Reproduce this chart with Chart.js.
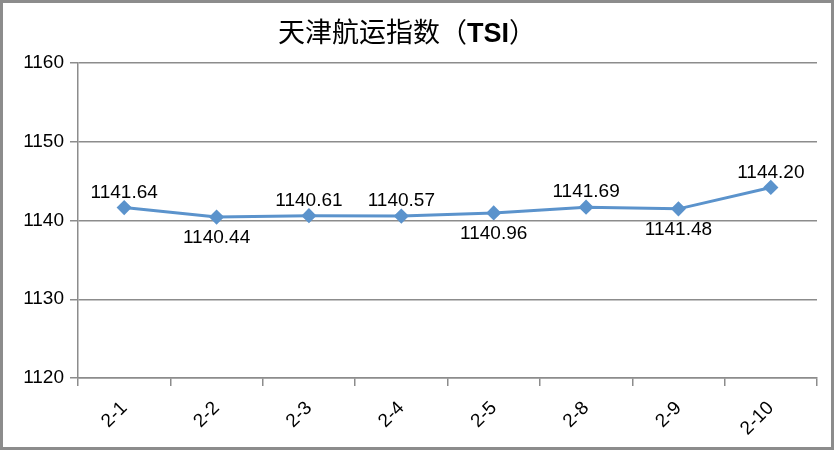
<!DOCTYPE html>
<html><head><meta charset="utf-8">
<script src="https://cdn.jsdelivr.net/npm/chart.js@4.4.1/dist/chart.umd.min.js"></script>
<style>html,body{margin:0;padding:0;background:#fff;}#wrap{width:834px;height:450px;position:relative;}</style>
</head><body><div id="wrap"><canvas id="c" width="834" height="450"></canvas></div>
<script>
const categories = ["2-1","2-2","2-3","2-4","2-5","2-8","2-9","2-10"];
const tsiValues = [1141.64, 1140.44, 1140.61, 1140.57, 1140.96, 1141.69, 1141.48, 1144.20];
const labelAbove = [true, false, true, true, false, true, false, true];
const yTicks = [1120, 1130, 1140, 1150, 1160];
const titleParts = [["天津航运指数（", false], ["TSI", true], ["）", false]];

const FONT = '"Liberation Sans", "Noto Sans CJK SC", Arial, sans-serif';
const GRAY = '#8c8c8c';

const framePlugin = {
  id: 'frame',
  afterDraw(chart) {
    const ctx = chart.ctx;
    ctx.save();
    ctx.strokeStyle = GRAY; ctx.lineWidth = 3;
    ctx.strokeRect(1.5, 1.5, chart.width - 3, chart.height - 3);
    // title
    ctx.fillStyle = '#000';
    ctx.textBaseline = 'middle';
    let widths = titleParts.map(([t, b]) => { ctx.font = (b ? 'bold ' : '') + '27px ' + FONT; return ctx.measureText(t).width; });
    let total = widths.reduce((a, b) => a + b, 0);
    let x = 407 - total / 2;
    titleParts.forEach(([t, b], i) => { ctx.font = (b ? 'bold ' : '') + '27px ' + FONT; ctx.textAlign = 'left'; ctx.fillText(t, x, 35); x += widths[i]; });
    // data labels
    const meta = chart.getDatasetMeta(0);
    ctx.font = '19px ' + FONT; ctx.textAlign = 'center';
    meta.data.forEach((pt, i) => {
      const v = tsiValues[i].toFixed(2);
      ctx.fillText(v, pt.x, labelAbove[i] ? pt.y - 15 : pt.y + 21);
    });
    ctx.restore();
  }
};

new Chart(document.getElementById('c'), {
  type: 'line',
  data: { labels: categories, datasets: [{
    data: tsiValues, borderColor: '#5b93cc', backgroundColor: '#5b93cc', borderWidth: 3,
    pointStyle: 'rectRot', pointRadius: 5.5, pointHoverRadius: 5.5, tension: 0
  }]},
  options: {
    responsive: false, animation: false, events: [],
    layout: { padding: { top: 63, right: 17, left: 0, bottom: 0 } },
    plugins: { legend: { display: false }, title: { display: false }, tooltip: { enabled: false } },
    scales: {
      x: {
        offset: true,
        grid: { offset: true, drawOnChartArea: false, drawTicks: true, tickLength: 8, color: GRAY, lineWidth: 1.5 },
        border: { color: GRAY, width: 1.5 },
        ticks: { color: '#000', font: { size: 19, family: FONT }, maxRotation: 45, minRotation: 45, padding: 11 },
        afterFit(s) { s.height = 72; }
      },
      y: {
        min: 1120, max: 1160,
        afterBuildTicks(s) { s.ticks = yTicks.map(v => ({ value: v })); },
        grid: { color: GRAY, lineWidth: 1.5, tickLength: 8 },
        border: { color: GRAY, width: 1.5 },
        ticks: { color: '#000', font: { size: 19, family: FONT }, padding: 6, callback: v => String(v) },
        afterFit(s) { s.width = 78; }
      }
    }
  },
  plugins: [framePlugin]
});
</script></body></html>
